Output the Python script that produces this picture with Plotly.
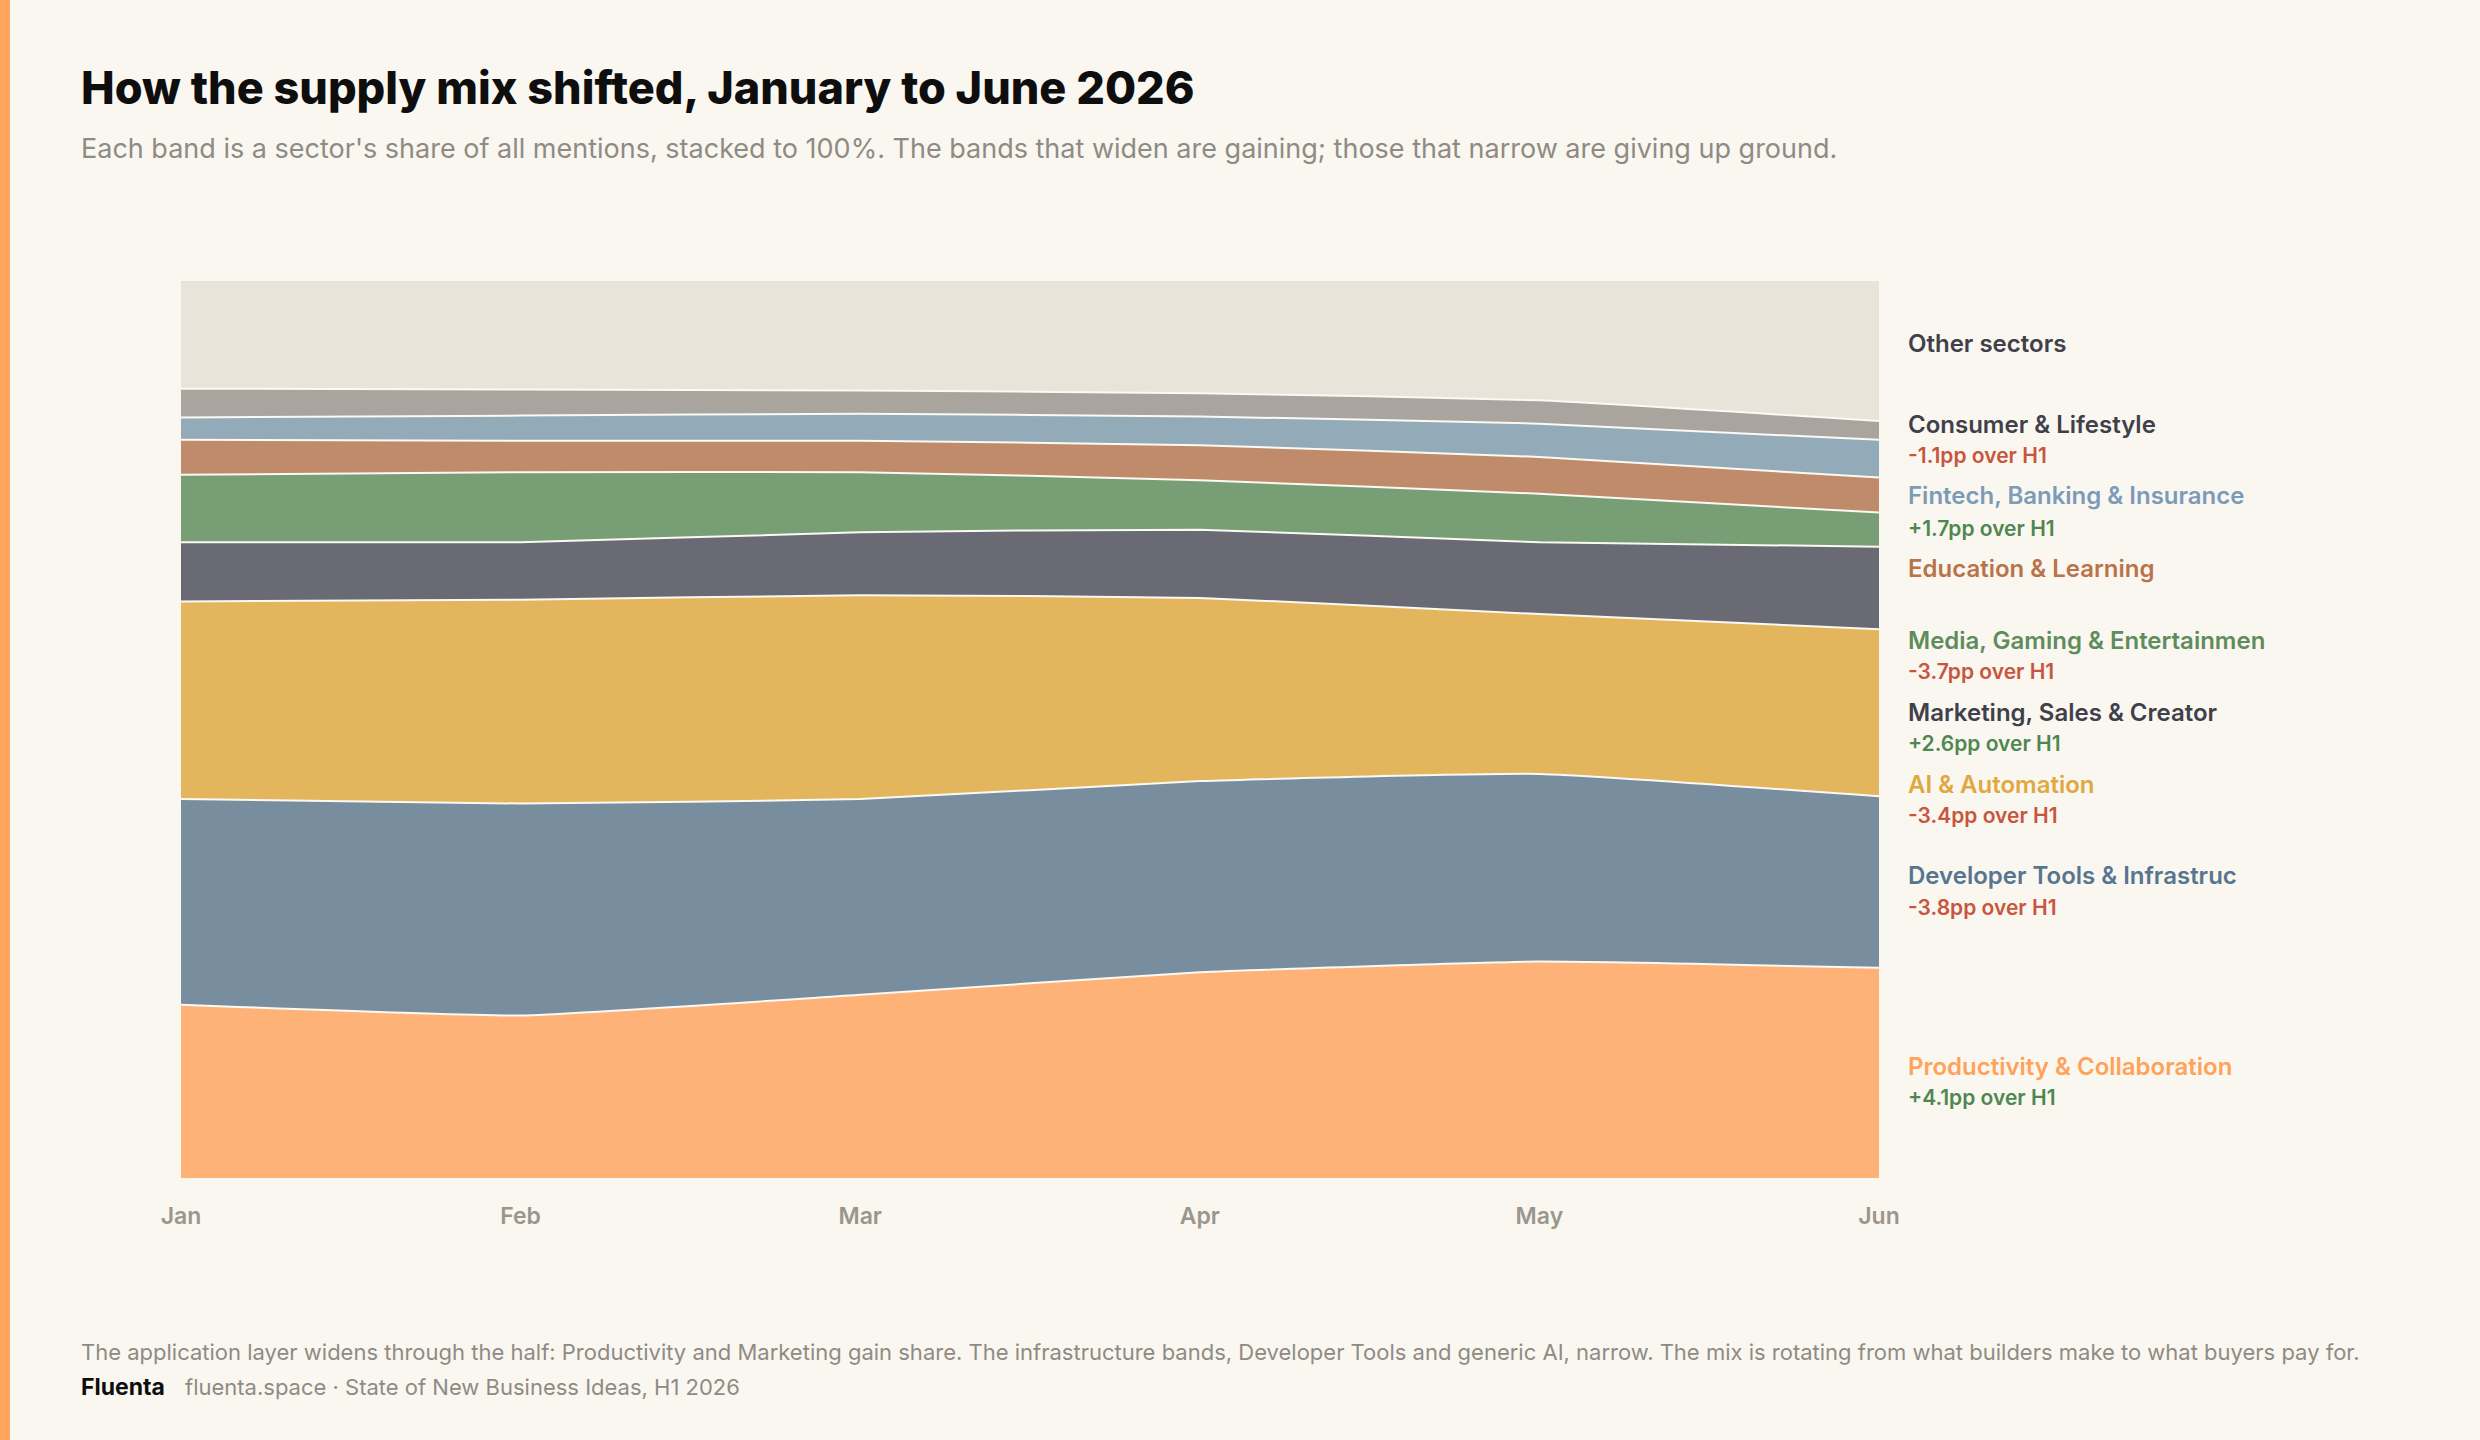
import plotly.graph_objects as go

# ---------------- data ----------------
months = ["Jan", "Feb", "Mar", "Apr", "May", "Jun"]

sectors = [
    "Productivity & Collaboration",
    "Developer Tools & Infrastruc",
    "AI & Automation",
    "Marketing, Sales & Creator",
    "Media, Gaming & Entertainmen",
    "Education & Learning",
    "Fintech, Banking & Insurance",
    "Consumer & Lifestyle",
    "Other sectors",
]

productivity = [19.3, 18.1, 20.4, 22.9, 24.1, 23.4]
developer    = [22.9, 23.6, 21.8, 21.3, 20.9, 19.1]
ai_auto      = [22.0, 22.7, 22.7, 20.4, 17.8, 18.6]
marketing    = [6.6, 6.4, 7.0, 7.6, 8.0, 9.2]
media        = [7.5, 7.8, 6.7, 5.5, 5.4, 3.8]
education    = [3.9, 3.5, 3.5, 3.9, 4.1, 3.9]
fintech      = [2.5, 2.8, 3.0, 3.2, 3.7, 4.2]
consumer     = [3.2, 2.9, 2.6, 2.6, 2.6, 2.1]
other        = [12.1, 12.2, 12.3, 12.6, 13.4, 15.7]

series = [productivity, developer, ai_auto, marketing, media,
          education, fintech, consumer, other]

deltas = ["+4.1pp over H1", "-3.8pp over H1", "-3.4pp over H1", "+2.6pp over H1",
          "-3.7pp over H1", "", "+1.7pp over H1", "-1.1pp over H1", ""]

title = "How the supply mix shifted, January to June 2026"
subtitle = ("Each band is a sector's share of all mentions, stacked to 100%. "
            "The bands that widen are gaining; those that narrow are giving up ground.")
note = ("The application layer widens through the half: Productivity and Marketing gain share. "
        "The infrastructure bands, Developer Tools and generic AI, narrow. "
        "The mix is rotating from what builders make to what buyers pay for.")
brand = "Fluenta"
source = "fluenta.space · State of New Business Ideas, H1 2026"

# ---------------- style ----------------
BG = "#FAF7F0"
band_colors = ["#FFB278", "#788E9E", "#E3B65E", "#6A6A74", "#789E75",
               "#C08B6A", "#93AAB9", "#A9A49D", "#E8E4DA"]
label_colors = ["#FFA25A", "#587590", "#E0A83E", "#3F404A", "#5E8C5C",
                "#B8734A", "#7B9BB8", "#3F404A", "#3F404A"]
UP = "#4F8750"
DOWN = "#C8553D"

W_PX, H_PX = 2480, 1440
L, R, T, B = 181, 1879, 280, 1178
PW, PH = R - L, B - T


def px(x):
    return (x - L) / PW


def py(y):
    return (B - y) / PH


FONT = "Inter, 'Noto Sans', sans-serif"

fig = go.Figure()
xs = list(range(len(months)))
for name, vals, col in zip(sectors, series, band_colors):
    fig.add_trace(go.Scatter(
        x=xs, y=vals, name=name, mode="lines",
        stackgroup="one",
        fillcolor=col,
        line=dict(color="#FBF9F3", width=2, shape="spline", smoothing=0.4),
        hoverinfo="skip",
    ))

# label positions (pixel rows) for the right-hand labels
name_rows = [1066, 875, 784, 712, 640, 568, 496, 424, 343]
delta_rows = [1097, 907, 815, 743, 671, None, 528, 455, None]

LBL_X = 1906
ann = []
for nm, col, ny, d, dy in zip(sectors, label_colors, name_rows, deltas, delta_rows):
    ann.append(dict(xref="paper", yref="paper", x=px(LBL_X), y=py(ny),
                    xanchor="left", yanchor="middle", showarrow=False, text=nm,
                    font=dict(family=FONT, size=24, color=col, weight=600)))
    if d and dy is not None:
        ann.append(dict(xref="paper", yref="paper", x=px(LBL_X), y=py(dy),
                        xanchor="left", yanchor="middle", showarrow=False, text=d,
                        font=dict(family=FONT, size=21, weight=600,
                                  color=UP if d.startswith("+") else DOWN)))

ann.append(dict(xref="paper", yref="paper", x=px(79), y=py(87), xanchor="left",
                yanchor="middle", showarrow=False, text=title,
                font=dict(family=FONT, size=45, color="#0E0E0E", weight=800)))
ann.append(dict(xref="paper", yref="paper", x=px(79), y=py(149), xanchor="left",
                yanchor="middle", showarrow=False, text=subtitle,
                font=dict(family=FONT, size=27, color="#8F8B84")))
ann.append(dict(xref="paper", yref="paper", x=px(79), y=py(1352), xanchor="left",
                yanchor="middle", showarrow=False, text=note,
                font=dict(family=FONT, size=22, color="#8F8B84")))
ann.append(dict(xref="paper", yref="paper", x=px(79), y=py(1387), xanchor="left",
                yanchor="middle", showarrow=False, text=brand,
                font=dict(family=FONT, size=23, color="#0E0E0E", weight=700)))
ann.append(dict(xref="paper", yref="paper", x=px(183), y=py(1387), xanchor="left",
                yanchor="middle", showarrow=False, text=source,
                font=dict(family=FONT, size=22, color="#8F8B84")))

shapes = [dict(type="rect", xref="paper", yref="paper",
               x0=px(0), x1=px(10), y0=py(1440), y1=py(0),
               fillcolor="#FFA55C", line=dict(width=0), layer="above")]

fig.update_layout(
    width=W_PX, height=H_PX,
    margin=dict(l=L, r=W_PX - R, t=T, b=H_PX - B),
    paper_bgcolor=BG, plot_bgcolor=BG,
    showlegend=False,
    annotations=ann,
    shapes=shapes,
    xaxis=dict(range=[0, len(months) - 1], tickvals=xs, ticktext=months,
               showgrid=False, zeroline=False, showline=False, ticks="",
               tickfont=dict(family=FONT, size=23, color="#9A968C", weight=600),
               ticklabelstandoff=22, fixedrange=True),
    yaxis=dict(range=[0, 100], visible=False, fixedrange=True),
)

fig.write_html("out.html", config={"displayModeBar": False})
